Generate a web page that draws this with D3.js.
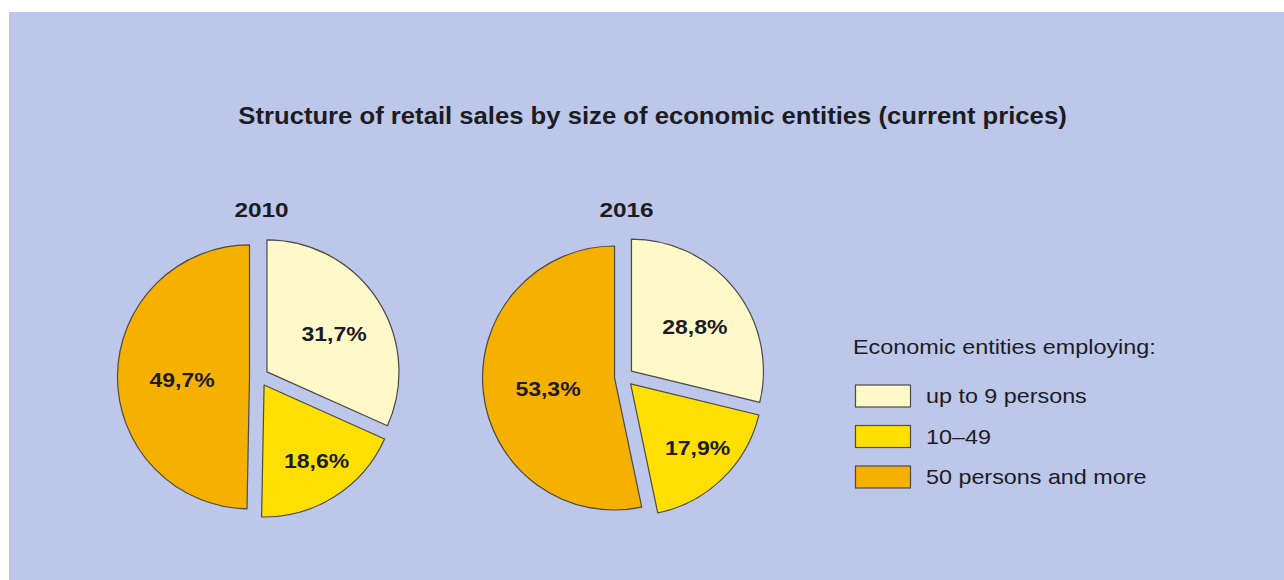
<!DOCTYPE html>
<html>
<head>
<meta charset="utf-8">
<script src="https://cdn.jsdelivr.net/npm/d3@7"></script>
<style>
  html, body { margin: 0; padding: 0; background: #ffffff; }
  svg { display: block; }
  text { font-family: "Liberation Sans", Arial, Helvetica, sans-serif; fill: #1c1c24; }
</style>
</head>
<body>
<svg id="chart" width="1284" height="580"></svg>
<script>
// Shares of retail sales (%) by size class of economic entity
const categories = ["up to 9 persons", "10–49", "50 persons and more"];
const years = ["2010", "2016"];
const shares2010 = [31.7, 18.6, 49.7];
const shares2016 = [28.8, 17.9, 53.3];
const titleText = "Structure of retail sales by size of economic entities (current prices)";
const legendTitle = "Economic entities employing:";

const W = 1284, H = 580;
const svg = d3.select("#chart");

// wide-set lettering: text is drawn with a horizontal stretch
function placeText(sel, x, y, sx) {
  return sel.attr("transform", `translate(${x},${y}) scale(${sx},1)`);
}

// panel background
svg.append("rect")
  .attr("x", 9).attr("y", 12)
  .attr("width", W - 9).attr("height", H - 12)
  .attr("fill", "#bdc7ea");

svg.append("text")
  .call(placeText, 652.5, 123.5, 1.116)
  .attr("text-anchor", "middle")
  .attr("font-size", 23).attr("font-weight", "bold")
  .text(titleText);

const color = d3.scaleOrdinal()
  .domain(categories)
  .range(["#fff8c8", "#ffdf00", "#f6b100"]);

const fmt = d3.formatLocale({ decimal: ",", thousands: " ", grouping: [3], currency: ["", ""] }).format(".1f");

const radius = 132;
const explode = 9.5;
// value label placement per category: distance (fraction of radius) and angular nudge (degrees)
const labelFrac = [0.657, 0.773, 0.583];
const labelNudge = [3, -2, -3];

const pieX = d3.scalePoint().domain(years).range([259, 624]);
const pieY = 377;

const pie = d3.pie().sort(null).value(d => d.value);
const arc = d3.arc().innerRadius(0).outerRadius(radius);

const datasets = [
  { year: "2010", values: shares2010 },
  { year: "2016", values: shares2016 }
];

datasets.forEach(ds => {
  const rows = categories.map((c, i) => ({ cat: c, value: ds.values[i], idx: i }));
  const g = svg.append("g")
    .attr("transform", `translate(${pieX(ds.year)},${pieY})`);

  g.append("text")
    .call(placeText, 2.5, -160, 1.22)
    .attr("text-anchor", "middle")
    .attr("font-size", 20).attr("font-weight", "bold")
    .text(ds.year);

  const slices = g.selectAll("g.slice")
    .data(pie(rows))
    .join("g")
    .attr("class", "slice")
    .attr("transform", d => {
      const a = (d.startAngle + d.endAngle) / 2;
      return `translate(${Math.sin(a) * explode},${-Math.cos(a) * explode})`;
    });

  slices.append("path")
    .attr("d", arc)
    .attr("fill", d => color(d.data.cat))
    .attr("stroke", "#4a4a4a")
    .attr("stroke-width", 1.2)
    .attr("stroke-linejoin", "round");

  g.selectAll("text.val")
    .data(pie(rows))
    .join("text")
    .attr("class", "val")
    .each(function (d) {
      const a = (d.startAngle + d.endAngle) / 2 + labelNudge[d.data.idx] * Math.PI / 180;
      const r = radius * labelFrac[d.data.idx];
      d3.select(this).call(placeText, Math.sin(a) * r, -Math.cos(a) * r, 1.18);
    })
    .attr("text-anchor", "middle")
    .attr("dy", "0.36em")
    .attr("font-size", 19.5).attr("font-weight", "bold")
    .text(d => fmt(d.data.value) + "%");
});

// legend
const lg = svg.append("g").attr("transform", "translate(853,0)");
lg.append("text")
  .call(placeText, 0, 354, 1.17)
  .attr("font-size", 20)
  .text(legendTitle);

const ly = d3.scalePoint().domain(categories).range([396, 477]);
const items = lg.selectAll("g.item")
  .data(categories)
  .join("g")
  .attr("class", "item")
  .attr("transform", d => `translate(0,${ly(d)})`);

items.append("rect")
  .attr("x", 2.5).attr("y", -11)
  .attr("width", 55).attr("height", 22)
  .attr("fill", d => color(d))
  .attr("stroke", "#4a4a4a")
  .attr("stroke-width", 1.2);

items.append("text")
  .call(placeText, 73, 0, 1.167)
  .attr("dy", "0.36em")
  .attr("font-size", 20)
  .text(d => d);
</script>
</body>
</html>
